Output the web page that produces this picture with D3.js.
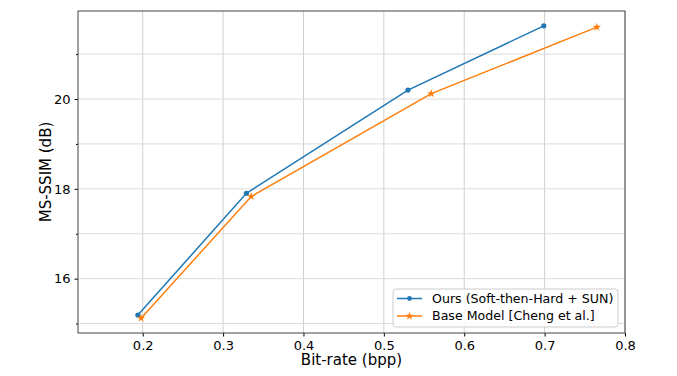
<!DOCTYPE html>
<html>
<head>
<meta charset="utf-8">
<script src="https://cdn.jsdelivr.net/npm/d3@7"></script>
<style>
  body { margin: 0; background: #fff; }
  svg { display: block; font-family: "DejaVu Sans", sans-serif; }
</style>
</head>
<body>
<div id="chart"></div>
<script>
// data
const seriesNames = ["Ours (Soft-then-Hard + SUN)", "Base Model [Cheng et al.]"];
const oursBpp  = [0.194, 0.329, 0.530, 0.699];
const oursDb   = [15.19, 17.90, 20.20, 21.63];
const baseBpp  = [0.198, 0.335, 0.559, 0.765];
const baseDb   = [15.12, 17.83, 20.12, 21.60];
const xTicks = [0.2, 0.3, 0.4, 0.5, 0.6, 0.7, 0.8];
const yTicks = [16, 18, 20];
const yMinor = [15, 17, 19, 21];
const colors = ["#1f77b4", "#ff7f0e"];

const width = 677, height = 376;
const margin = { top: 11, right: 52, bottom: 43, left: 78 };
const innerWidth  = width - margin.left - margin.right;
const innerHeight = height - margin.top - margin.bottom;

const svg = d3.select("#chart").append("svg")
  .attr("width", width)
  .attr("height", height);

const g = svg.append("g")
  .attr("transform", `translate(${margin.left},${margin.top})`);

const x = d3.scaleLinear().domain([0.1195, 0.8]).range([0, innerWidth]);
const y = d3.scaleLinear().domain([14.79, 21.96]).range([innerHeight, 0]);

// grid
g.append("g")
  .selectAll("line")
  .data(xTicks)
  .join("line")
  .attr("x1", d => x(d)).attr("x2", d => x(d))
  .attr("y1", 0).attr("y2", innerHeight)
  .attr("stroke", "#d0d0d0")
  .attr("stroke-width", 1);

g.append("g")
  .selectAll("line")
  .data(yTicks.concat(yMinor))
  .join("line")
  .attr("x1", 0).attr("x2", innerWidth)
  .attr("y1", d => y(d)).attr("y2", d => y(d))
  .attr("stroke", "#dcdcdc")
  .attr("stroke-width", 1);

// axes
const xAxis = g.append("g")
  .attr("transform", `translate(0,${innerHeight})`)
  .call(d3.axisBottom(x).tickValues(xTicks).tickFormat(d3.format(".1f")).tickSizeInner(3.5).tickSizeOuter(0).tickPadding(4));

const yAxis = g.append("g")
  .call(d3.axisLeft(y).tickValues(yTicks).tickFormat(d3.format("d")).tickSizeInner(3.5).tickSizeOuter(0).tickPadding(4));

g.append("g")
  .call(d3.axisLeft(y).tickValues(yMinor).tickFormat("").tickSizeInner(2).tickSizeOuter(0))
  .select(".domain").remove();

[xAxis, yAxis].forEach(a => {
  a.selectAll("text").attr("font-size", 13).attr("fill", "#000").attr("font-family", "DejaVu Sans");
  a.select(".domain").remove();
});

// frame
g.append("rect")
  .attr("width", innerWidth)
  .attr("height", innerHeight)
  .attr("fill", "none")
  .attr("stroke", "#444")
  .attr("stroke-width", 1);

// lines
const line = d3.line().x(d => x(d[0])).y(d => y(d[1]));
const series = [
  d3.zip(oursBpp, oursDb),
  d3.zip(baseBpp, baseDb)
];

series.forEach((pts, i) => {
  g.append("path")
    .datum(pts)
    .attr("fill", "none")
    .attr("stroke", colors[i])
    .attr("stroke-width", 1.5)
    .attr("d", line);
});

// markers
g.selectAll(".dot")
  .data(series[0])
  .join("circle")
  .attr("class", "dot")
  .attr("cx", d => x(d[0]))
  .attr("cy", d => y(d[1]))
  .attr("r", 2.6)
  .attr("fill", colors[0]);

const star = d3.symbol().type(d3.symbolStar).size(22);
g.selectAll(".star")
  .data(series[1])
  .join("path")
  .attr("class", "star")
  .attr("transform", d => `translate(${x(d[0])},${y(d[1])})`)
  .attr("d", star)
  .attr("fill", colors[1]);

// axis labels
svg.append("text")
  .attr("x", margin.left + innerWidth / 2)
  .attr("y", 365)
  .attr("text-anchor", "middle")
  .attr("font-size", 15)
  .text("Bit-rate (bpp)");

svg.append("text")
  .attr("transform", `translate(51,${margin.top + innerHeight / 2}) rotate(-90)`)
  .attr("text-anchor", "middle")
  .attr("font-size", 15)
  .text("MS-SSIM (dB)");

// legend
const leg = svg.append("g").attr("transform", "translate(393,289)");
leg.append("rect")
  .attr("width", 225)
  .attr("height", 38)
  .attr("rx", 3)
  .attr("fill", "rgba(255,255,255,0.85)")
  .attr("stroke", "#cccccc");

seriesNames.forEach((name, i) => {
  const ry = 9.5 + i * 17.5;
  leg.append("line")
    .attr("x1", 4).attr("x2", 29)
    .attr("y1", ry).attr("y2", ry)
    .attr("stroke", colors[i])
    .attr("stroke-width", 1.5);
  if (i === 0) {
    leg.append("circle").attr("cx", 16.5).attr("cy", ry).attr("r", 2.4).attr("fill", colors[i]);
  } else {
    leg.append("path").attr("transform", `translate(16.5,${ry})`).attr("d", star).attr("fill", colors[i]);
  }
  leg.append("text")
    .attr("x", 39)
    .attr("y", ry)
    .attr("dy", "0.35em")
    .attr("font-size", 12.6)
    .text(name);
});
</script>
</body>
</html>
